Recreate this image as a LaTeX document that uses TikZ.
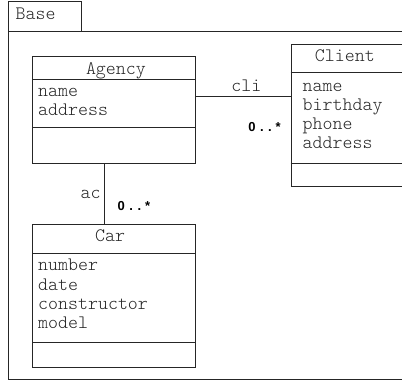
\documentclass[tikz,border=0pt]{standalone}
\usepackage{fontspec}
\newfontfamily\umlfont{lmmonolt10-regular.otf}
\newfontfamily\multfont{Liberation Sans}
\tikzset{
  umlline/.style={line width=1pt,draw=black!85},
  classbox/.style={umlline,rectangle,inner sep=0pt,anchor=north west},
  umltext/.style={inner sep=0pt,anchor=base west,text=black!85,
    font=\umlfont\fontsize{19}{19.3}\selectfont},
  multtext/.style={inner sep=0pt,font=\multfont\bfseries\fontsize{13}{15}\selectfont},
}
% 0..* with the dots spread out
\newcommand{\manymult}{0\kern4.5pt.\kern4.5pt.\kern4pt*}
\begin{document}
\begin{tikzpicture}[x=1pt,y=-1pt]
  \useasboundingbox (0,0) rectangle (402,381);
  \clip (0,0) rectangle (402,381);
  \fill[white] (0,0) rectangle (402,381);
  % package frame and its tab
  \node[classbox,minimum width=73pt,minimum height=30pt] (tab) at (8,1) {};
  \node[umltext] (tabname) at (15.5,19.3) {Base};
  \draw[umlline] (8,31) rectangle (430,379);
  % Agency
  \node[classbox,minimum width=163pt,minimum height=107.6pt] (agency) at (32,55.7) {};
  \draw[umlline] ([yshift=-23.6pt]agency.north west) -- ([yshift=-23.6pt]agency.north east);
  \draw[umlline] ([yshift=-71.6pt]agency.north west) -- ([yshift=-71.6pt]agency.north east);
  \node[umltext] (agency-t) at (85.8,74) {Agency};
  \foreach \a [count=\i from 0] in {name,address}
    \node[umltext] (agency-a\i) at (38,{96.5+19.4*\i}) {\a};
  % Client
  \node[classbox,minimum width=116pt,minimum height=142.3pt] (client) at (290.7,44) {};
  \draw[umlline] ([yshift=-28pt]client.north west) -- ([yshift=-28pt]client.north east);
  \draw[umlline] ([yshift=-119.7pt]client.north west) -- ([yshift=-119.7pt]client.north east);
  \node[umltext] (client-t) at (314.7,61.3) {Client};
  \foreach \a [count=\i from 0] in {name,birthday,phone,address}
    \node[umltext] (client-a\i) at (302.5,{91+19.3*\i}) {\a};
  % Car
  \node[classbox,minimum width=163pt,minimum height=143.3pt] (car) at (32,224) {};
  \draw[umlline] ([yshift=-29.3pt]car.north west) -- ([yshift=-29.3pt]car.north east);
  \draw[umlline] ([yshift=-118.7pt]car.north west) -- ([yshift=-118.7pt]car.north east);
  \node[umltext] (car-t) at (95,241.7) {Car};
  \foreach \a [count=\i from 0] in {number,date,constructor,model}
    \node[umltext] (car-a\i) at (38,{270.7+19.3*\i}) {\a};
  % associations
  \coordinate (cli-end) at (195,96.7);
  \draw[umlline] (cli-end) -- (cli-end -| client.west);
  \node[umltext] (cli) at (231.2,91) {cli};
  \node[multtext,anchor=base east] (cli-mult) at (281,131.5) {\manymult};
  \coordinate (ac-end) at (104.7,163.3);
  \draw[umlline] (ac-end) -- (ac-end |- car.north);
  \node[umltext] (ac) at (80.5,198.3) {ac};
  \node[multtext,anchor=base west] (ac-mult) at (117.5,210.5) {\manymult};
\end{tikzpicture}
\end{document}
